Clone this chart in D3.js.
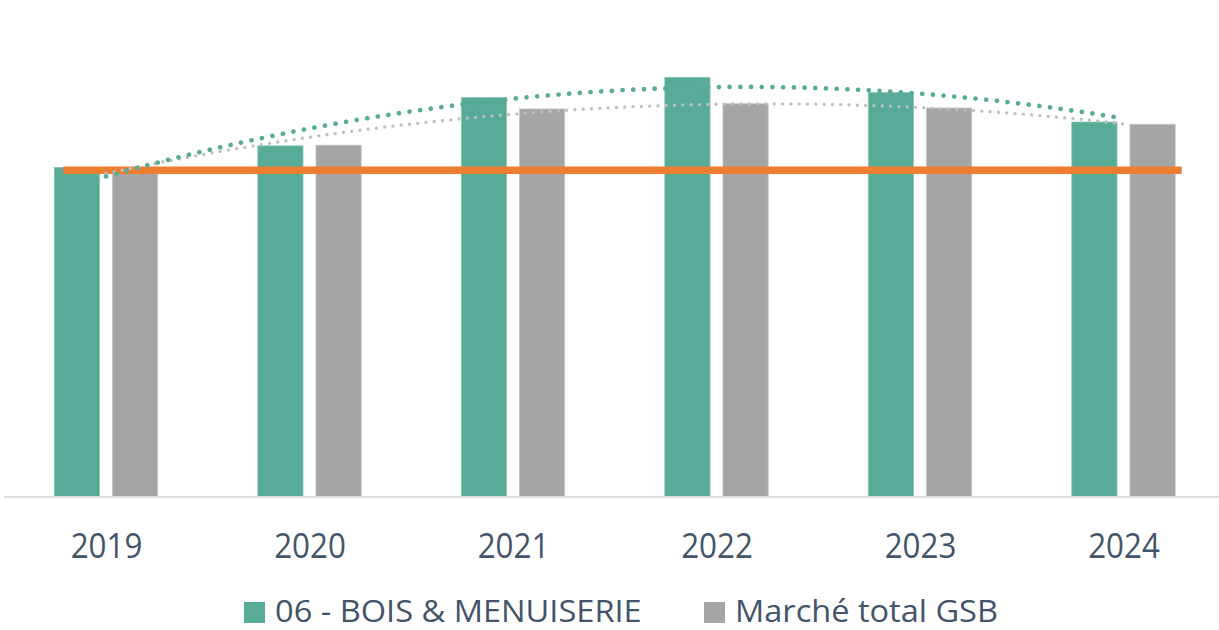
<!DOCTYPE html>
<html>
<head>
<meta charset="utf-8">
<script src="https://cdn.jsdelivr.net/npm/d3@7"></script>
<style>
  html, body { margin: 0; padding: 0; background: #ffffff; }
  svg { display: block; }
  text { font-family: "Open Sans", "Noto Sans", sans-serif; fill: #44546A; }
</style>
</head>
<body>
<svg id="chart" width="1219" height="630"></svg>
<script>
// ---- data ----
const years = ["2019", "2020", "2021", "2022", "2023", "2024"];
const seriesNames = ["06 - BOIS & MENUISERIE", "Marché total GSB"];
const boisValues = [100.9, 107.5, 122.3, 128.5, 123.8, 114.8];
const marcheValues = [100.0, 107.7, 118.8, 120.4, 119.1, 114.1];
const referenceValue = 100;

const colors = {
  bois: "#57AB97",
  marche: "#A5A5A5",
  boisTrend: "#57AB97",
  marcheTrend: "#BFBFBF",
  ref: "#ED7D31",
  axis: "#D9D9D9"
};

const svg = d3.select("#chart");
const W = 1219, H = 630;
const baseY = 496.5;

const x0 = d3.scaleBand()
  .domain(years)
  .range([4.25, 1225.25])
  .paddingInner(0.492)
  .paddingOuter(0.246);

const x1 = d3.scaleBand()
  .domain(seriesNames)
  .range([0, x0.bandwidth()])
  .paddingInner(0.223);

const y = d3.scaleLinear().domain([0, 100]).range([baseY, 170.3]);

const seriesData = [
  { name: seriesNames[0], values: boisValues, color: colors.bois, stroke: "#8CC6B8" },
  { name: seriesNames[1], values: marcheValues, color: colors.marche, stroke: "#C4C4C4" }
];

// bars
const groups = svg.append("g").selectAll("g")
  .data(years)
  .join("g")
  .attr("transform", d => `translate(${x0(d)},0)`);

groups.selectAll("rect")
  .data((d, i) => seriesData.map(s => ({ name: s.name, value: s.values[i], color: s.color, stroke: s.stroke })))
  .join("rect")
  .attr("x", d => x1(d.name))
  .attr("width", x1.bandwidth())
  .attr("y", d => y(d.value))
  .attr("height", d => baseY - y(d.value))
  .attr("fill", d => d.color)
  .attr("stroke", d => d.stroke)
  .attr("stroke-width", 0.8);

// axis line
svg.append("line")
  .attr("x1", 4).attr("x2", W)
  .attr("y1", baseY + 0.4).attr("y2", baseY + 0.4)
  .attr("stroke", colors.axis).attr("stroke-width", 1.6);

// category labels via d3 axis
const xAxisScale = d3.scalePoint().domain(years)
  .range([x0(years[0]) + x0.bandwidth() / 2, x0(years[years.length - 1]) + x0.bandwidth() / 2]);
const axisG = svg.append("g")
  .attr("transform", `translate(0,${baseY})`)
  .call(d3.axisBottom(xAxisScale).tickSize(0).tickPadding(0));
axisG.select(".domain").remove();
axisG.selectAll("text")
  .attr("y", 61.2)
  .attr("dy", null)
  .attr("font-size", 34)
  .attr("fill", "#44546A")
  .attr("font-family", '"Open Sans", sans-serif')
  .attr("textLength", 71.7)
  .attr("lengthAdjust", "spacingAndGlyphs");

// reference line (orange)
svg.append("line")
  .attr("x1", x0(years[0]) + 9)
  .attr("x2", x0(years[years.length - 1]) + x0.bandwidth() + 6.5)
  .attr("y1", y(referenceValue)).attr("y2", y(referenceValue))
  .attr("stroke", colors.ref)
  .attr("stroke-width", 7.4);

// quadratic trendlines (least squares, as in spreadsheet trendline)
function quadFit(vals) {
  const xs = vals.map((_, i) => i + 1);
  let S = [0, 0, 0, 0, 0], T = [0, 0, 0];
  xs.forEach((xv, i) => {
    for (let k = 0; k <= 4; k++) S[k] += Math.pow(xv, k);
    for (let k = 0; k <= 2; k++) T[k] += Math.pow(xv, k) * vals[i];
  });
  const A = [[S[0], S[1], S[2], T[0]], [S[1], S[2], S[3], T[1]], [S[2], S[3], S[4], T[2]]];
  for (let i = 0; i < 3; i++) {
    let p = A[i][i];
    for (let j = i; j < 4; j++) A[i][j] /= p;
    for (let r = 0; r < 3; r++) {
      if (r === i) continue;
      const f = A[r][i];
      for (let j = i; j < 4; j++) A[r][j] -= f * A[i][j];
    }
  }
  const c0 = A[0][3], c1 = A[1][3], c2 = A[2][3];
  return t => c0 + c1 * t + c2 * t * t;
}

const centerX = t => x0(years[0]) + x0.bandwidth() / 2 + (t - 1) * x0.step();
const line = d3.line().x(d => centerX(d.t)).y(d => y(d.v)).curve(d3.curveLinear);

const trends = [
  { vals: marcheValues, color: colors.marcheTrend, w: 3.3, gap: 8.3 },
  { vals: boisValues, color: colors.boisTrend, w: 4.7, gap: 10.7 }
];
trends.forEach(tr => {
  const f = quadFit(tr.vals);
  const pts = d3.range(0, 201).map(k => {
    const t = 1 + k * (years.length - 1) / 200;
    return { t, v: f(t) };
  });
  svg.append("path")
    .attr("d", line(pts))
    .attr("fill", "none")
    .attr("stroke", tr.color)
    .attr("stroke-width", tr.w)
    .attr("stroke-linecap", "round")
    .attr("stroke-dasharray", `0.01 ${tr.gap}`);
});

// legend
const legendItems = [
  { name: seriesNames[0], color: colors.bois, sx: 244, tx: 275, tl: 366.7 },
  { name: seriesNames[1], color: colors.marche, sx: 704, tx: 735, tl: 263 }
];
const lg = svg.append("g");
legendItems.forEach(it => {
  lg.append("rect")
    .attr("x", it.sx).attr("y", 602)
    .attr("width", 21).attr("height", 21)
    .attr("fill", it.color);
  lg.append("text")
    .attr("x", it.tx).attr("y", 621.5)
    .attr("font-size", 31.5)
    .attr("textLength", it.tl)
    .attr("lengthAdjust", "spacingAndGlyphs")
    .text(it.name);
});
</script>
</body>
</html>
